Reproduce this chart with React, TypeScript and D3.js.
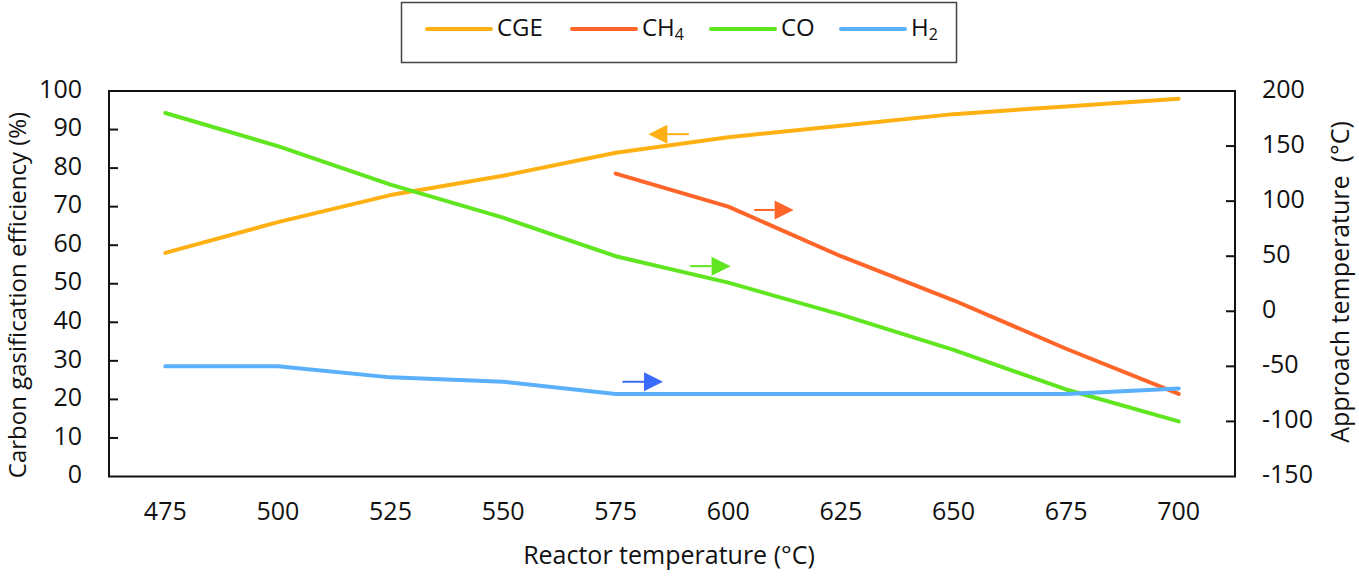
import React from "react";
import * as d3 from "d3";

const categories = ["475", "500", "525", "550", "575", "600", "625", "650", "675", "700"];
const cgeValues: (number | null)[] = [58, 66, 73, 78, 84, 88, 91, 94, 96, 98];
const ch4Values: (number | null)[] = [null, null, null, null, 125, 95, 50, 10, -34, -75];
const coValues: (number | null)[] = [180, 150, 115, 85, 50, 26, -3, -35, -71, -100];
const h2Values: (number | null)[] = [-50, -50, -60, -64, -75, -75, -75, -75, -75, -70];
const leftTicks = [0, 10, 20, 30, 40, 50, 60, 70, 80, 90, 100];
const rightTicks = [-150, -100, -50, 0, 50, 100, 150, 200];

const seriesNames = ["CGE", "CH4", "CO", "H2"];
const seriesColors = ["#FFB114", "#FF6428", "#5FE620", "#5AB0FA"];

// annotation arrows: position along the category index, value on its axis
const arrowFrom = [4.65, 5.23, 4.66, 4.06];
const arrowTo = [4.29, 5.58, 5.02, 4.42];
const arrowValue = [88.8, 92, 41, -64];
const arrowAxis = ["left", "right", "right", "right"];
const arrowColors = ["#FFB114", "#FF6428", "#5FE620", "#3A6BFA"];

const W = 1359;
const H = 577;
const L = 109;
const R = 1235;
const T = 91;
const B = 476.5;
const FONT = "'Open Sans', sans-serif";

export default function App() {
  const x = d3.scaleBand<string>().domain(categories).range([L, R]).padding(0);
  const xi = d3.scaleLinear().domain([-0.5, categories.length - 0.5]).range([L, R]);
  const yL = d3.scaleLinear().domain([0, 100]).range([B, T]);
  const yR = d3.scaleLinear().domain([-150, 200]).range([B, T]);
  const cx = (c: string) => (x(c) as number) + x.bandwidth() / 2;

  const mkLine = (scale: d3.ScaleLinear<number, number>) =>
    d3
      .line<number | null>()
      .defined((d) => d !== null)
      .x((_, i) => cx(categories[i]))
      .y((d) => scale(d as number));

  const series = [
    { vals: cgeValues, scale: yL },
    { vals: ch4Values, scale: yR },
    { vals: coValues, scale: yR },
    { vals: h2Values, scale: yR },
  ];

  const legendLineX = [427, 572, 711, 841];

  return (
    <svg
      width={W}
      height={H}
      style={{ position: "absolute", left: 0, top: 0, background: "#fff" }}
      fontFamily={FONT}
    >
      <rect x={0} y={0} width={W} height={H} fill="#fff" />
      {/* legend */}
      <rect x={401.5} y={2.5} width={555} height={60} fill="#fff" stroke="#444" strokeWidth={1.5} />
      {seriesNames.map((n, i) => (
        <g key={n}>
          <line
            x1={legendLineX[i]}
            x2={legendLineX[i] + 64}
            y1={29}
            y2={29}
            stroke={seriesColors[i]}
            strokeWidth={4}
            strokeLinecap="round"
          />
          <text x={legendLineX[i] + 70} y={30} dominantBaseline="middle" fontSize={24} fill="#111">
            {n === "CH4" ? (
              <>
                CH<tspan fontSize={16} dy={6}>4</tspan>
              </>
            ) : n === "H2" ? (
              <>
                H<tspan fontSize={16} dy={6}>2</tspan>
              </>
            ) : (
              n
            )}
          </text>
        </g>
      ))}

      {/* series */}
      {series.map((s, i) => (
        <path
          key={i}
          d={mkLine(s.scale)(s.vals) || ""}
          fill="none"
          stroke={seriesColors[i]}
          strokeWidth={4}
          strokeLinecap="round"
          strokeLinejoin="round"
        />
      ))}

      {/* arrows */}
      {arrowFrom.map((f, i) => {
        const sc = arrowAxis[i] === "left" ? yL : yR;
        const y = sc(arrowValue[i]);
        const x0 = xi(f);
        const x1 = xi(arrowTo[i]);
        const dir = x1 > x0 ? 1 : -1;
        const hl = 19;
        const hh = 9.5;
        const base = x1 - dir * hl;
        return (
          <g key={i}>
            <line x1={x0} x2={base} y1={y} y2={y} stroke={arrowColors[i]} strokeWidth={2} />
            <path
              d={`M${x1},${y} L${base},${y - hh} L${base},${y + hh} Z`}
              fill={arrowColors[i]}
            />
          </g>
        );
      })}

      {/* plot frame */}
      <rect x={L} y={T} width={R - L} height={B - T} fill="none" stroke="#111" strokeWidth={2} />

      {/* left ticks */}
      {leftTicks.map((t) => (
        <g key={"l" + t}>
          {t > 0 && t < 100 && (
            <line x1={L} x2={L + 9} y1={yL(t)} y2={yL(t)} stroke="#111" strokeWidth={2} />
          )}
          <text x={82} y={yL(t)} textAnchor="end" dominantBaseline="middle" fontSize={25} fill="#111">
            {t}
          </text>
        </g>
      ))}
      {/* right ticks */}
      {rightTicks.map((t) => (
        <g key={"r" + t}>
          {t > -150 && t < 200 && (
            <line x1={R - 9} x2={R} y1={yR(t)} y2={yR(t)} stroke="#111" strokeWidth={2} />
          )}
          <text x={1262} y={yR(t)} textAnchor="start" dominantBaseline="middle" fontSize={25} fill="#111">
            {t}
          </text>
        </g>
      ))}
      {/* x labels */}
      {categories.map((c) => (
        <text key={c} x={cx(c)} y={513} textAnchor="middle" dominantBaseline="middle" fontSize={25} fill="#111">
          {c}
        </text>
      ))}

      {/* axis titles */}
      <text x={669} y={557} textAnchor="middle" dominantBaseline="middle" fontSize={25} fill="#111">
        Reactor temperature (°C)
      </text>
      <text
        transform={`translate(20,295) rotate(-90)`}
        textAnchor="middle"
        dominantBaseline="middle"
        fontSize={24}
        fill="#111"
      >
        Carbon gasification efficiency (%)
      </text>
      <text
        transform={`translate(1342,282) rotate(-90)`}
        textAnchor="middle"
        dominantBaseline="middle"
        fontSize={25}
        fill="#111"
        style={{ whiteSpace: "pre" }}
      >
        {"Approach temperature  (°C)"}
      </text>
    </svg>
  );
}
